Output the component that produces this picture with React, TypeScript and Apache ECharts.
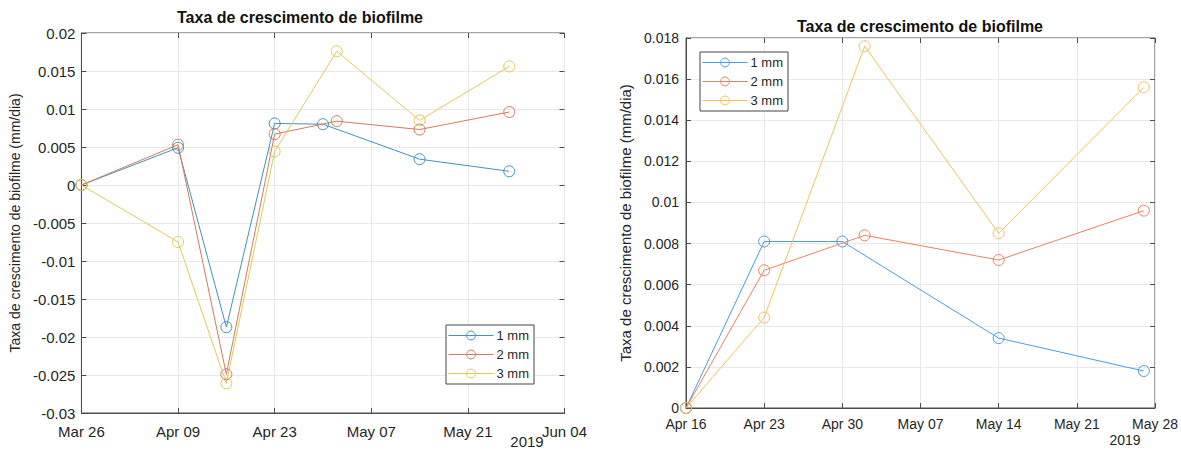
import React, { useEffect, useRef } from "react";
import * as echarts from "echarts";

// ---------- data ----------
const seriesNames = ["1 mm", "2 mm", "3 mm"];

// left chart (Mar 26 – Jun 04)
const leftDates1 = ["2019-03-26", "2019-04-09", "2019-04-16", "2019-04-23", "2019-04-30", "2019-05-14", "2019-05-27"];
const leftDates23 = ["2019-03-26", "2019-04-09", "2019-04-16", "2019-04-23", "2019-05-02", "2019-05-14", "2019-05-27"];
const left1mm = [0, 0.0049, -0.0187, 0.0081, 0.008, 0.0034, 0.0018];
const left2mm = [0, 0.0053, -0.0249, 0.0067, 0.0084, 0.0073, 0.0096];
const left3mm = [0, -0.0075, -0.0261, 0.0044, 0.0176, 0.0085, 0.0156];

// right chart (Apr 16 – May 28)
const rightDates1 = ["2019-04-16", "2019-04-23", "2019-04-30", "2019-05-14", "2019-05-27"];
const rightDates23 = ["2019-04-16", "2019-04-23", "2019-05-02", "2019-05-14", "2019-05-27"];
const right1mm = [0, 0.0081, 0.0081, 0.0034, 0.0018];
const right2mm = [0, 0.0067, 0.0084, 0.0072, 0.0096];
const right3mm = [0, 0.0044, 0.0176, 0.0085, 0.0156];

const leftStart = "2019-03-26";
const leftEnd = "2019-06-04";
const rightStart = "2019-04-16";
const rightEnd = "2019-05-28";

const titleText = "Taxa de crescimento de biofilme";
const yName = "Taxa de crescimento de biofilme (mm/dia)";
const yearLabel = "2019";

// ---------- helpers ----------
const DAY = 86400000;
const MONTHS = ["Jan", "Feb", "Mar", "Apr", "May", "Jun", "Jul", "Aug", "Sep", "Oct", "Nov", "Dec"];
const dayNum = (s: string) => {
  const [y, m, d] = s.split("-").map(Number);
  return Math.round(Date.UTC(y, m - 1, d) / DAY);
};
const fmtDay = (start: string) => (v: number) => {
  const dt = new Date((dayNum(start) + Math.round(v)) * DAY);
  return MONTHS[dt.getUTCMonth()] + " " + String(dt.getUTCDate()).padStart(2, "0");
};
const pts = (start: string, dates: string[], vals: number[]) =>
  dates.map((d, i) => [dayNum(d) - dayNum(start), vals[i]]);

const FONT = "'Liberation Sans', Arial, sans-serif";
const FRAME = "#4d4d4d";
const TXT = "#262626";
const GRIDC = "#e8e8e8";

function buildOption(cfg: any) {
  const {
    start, end, xInterval, yMin, yMax, yInterval, grid, colors, data,
    titleLeft, titleTop, fontSize, nameGap, nameFont, legendPos, yearPos, xMargin, yMargin,
  } = cfg;
  const xMax = dayNum(end) - dayNum(start);
  const baseX = {
    type: "value",
    min: 0,
    max: xMax,
    interval: xInterval,
  };
  const baseY = { type: "value", min: yMin, max: yMax, interval: yInterval };
  return {
    animation: false,
    backgroundColor: "#ffffff",
    title: {
      text: titleText,
      left: titleLeft,
      top: titleTop,
      textAlign: "center",
      padding: 0,
      textStyle: { fontFamily: FONT, fontSize: 16, fontWeight: "bold", color: "#111" },
    },
    grid: {
      left: grid.left,
      top: grid.top,
      width: grid.width,
      height: grid.height,
      show: true,
      borderColor: FRAME,
      borderWidth: 1,
      backgroundColor: "#fff",
    },
    legend: {
      orient: "vertical",
      left: legendPos.left,
      top: legendPos.top,
      data: seriesNames,
      itemWidth: 45,
      itemHeight: 11,
      itemGap: 6,
      padding: [4, 5, 4, 2],
      borderColor: "#444",
      borderWidth: 1,
      backgroundColor: "#fff",
      lineStyle: { width: 1 },
      itemStyle: { borderWidth: 1 },
      textStyle: { fontFamily: FONT, fontSize: 13, color: TXT, padding: [0, 0, 0, -2] },
    },
    xAxis: [
      {
        ...baseX,
        position: "bottom",
        axisLine: { show: true, onZero: false, lineStyle: { color: FRAME } },
        axisTick: { show: true, inside: true, length: 5, lineStyle: { color: FRAME } },
        axisLabel: { formatter: fmtDay(start), fontFamily: FONT, fontSize, color: TXT, margin: xMargin, showMaxLabel: true, showMinLabel: true },
        splitLine: { show: true, lineStyle: { color: GRIDC } },
      },
      {
        ...baseX,
        position: "top",
        axisLine: { show: false, onZero: false },
        axisTick: { show: true, inside: true, length: 5, lineStyle: { color: FRAME } },
        axisLabel: { show: false },
        splitLine: { show: false },
      },
    ],
    yAxis: [
      {
        ...baseY,
        position: "left",
        name: yName,
        nameLocation: "middle",
        nameGap,
        nameTextStyle: { fontFamily: FONT, fontSize: nameFont, color: TXT },
        axisLine: { show: true, onZero: false, lineStyle: { color: FRAME } },
        axisTick: { show: true, inside: true, length: 5, lineStyle: { color: FRAME } },
        axisLabel: { fontFamily: FONT, fontSize, color: TXT, margin: yMargin },
        splitLine: { show: true, lineStyle: { color: GRIDC } },
      },
      {
        ...baseY,
        position: "right",
        axisLine: { show: false, onZero: false },
        axisTick: { show: true, inside: true, length: 5, lineStyle: { color: FRAME } },
        axisLabel: { show: false },
        splitLine: { show: false },
      },
    ],
    graphic: [
      {
        type: "text",
        x: yearPos.x,
        y: yearPos.y,
        style: { text: yearLabel, fontFamily: FONT, fontSize, fill: TXT, align: "center", verticalAlign: "middle" },
      },
    ],
    series: data.map((d: number[][], i: number) => ({
      type: "line",
      name: seriesNames[i],
      xAxisIndex: 0,
      yAxisIndex: 0,
      data: d,
      symbol: "circle",
      symbolSize: 11,
      showSymbol: true,
      lineStyle: { color: colors[i], width: 1 },
      itemStyle: { color: "rgba(255,255,255,0)", borderColor: colors[i], borderWidth: 1 },
      emphasis: { disabled: true },
    })),
  };
}

export default function App() {
  const leftRef = useRef<HTMLDivElement>(null);
  const rightRef = useRef<HTMLDivElement>(null);

  useEffect(() => {
    document.body.style.margin = "0";
    const l = echarts.init(leftRef.current!, undefined, { renderer: "svg" });
    const r = echarts.init(rightRef.current!, undefined, { renderer: "svg" });

    l.setOption(
      buildOption({
        start: leftStart,
        end: leftEnd,
        xInterval: 14,
        yMin: -0.03,
        yMax: 0.02,
        yInterval: 0.005,
        grid: { left: 79, top: 33, width: 486, height: 380 },
        colors: ["#3f92c2", "#d47a5a", "#e6c659"],
        data: [
          pts(leftStart, leftDates1, left1mm),
          pts(leftStart, leftDates23, left2mm),
          pts(leftStart, leftDates23, left3mm),
        ],
        titleLeft: 300,
        titleTop: 9,
        fontSize: 15,
        nameGap: 55,
        nameFont: 14,
        legendPos: { left: 446, top: 325 },
        yearPos: { x: 527, y: 441 },
        xMargin: 11,
        yMargin: 6,
      })
    );

    r.setOption(
      buildOption({
        start: rightStart,
        end: rightEnd,
        xInterval: 7,
        yMin: 0,
        yMax: 0.018,
        yInterval: 0.002,
        grid: { left: 96, top: 38, width: 469, height: 370 },
        colors: ["#4a9de0", "#ef7f5e", "#f4c15c"],
        data: [
          pts(rightStart, rightDates1, right1mm),
          pts(rightStart, rightDates23, right2mm),
          pts(rightStart, rightDates23, right3mm),
        ],
        titleLeft: 330,
        titleTop: 18,
        fontSize: 14,
        nameGap: 48,
        nameFont: 15,
        legendPos: { left: 110, top: 52 },
        yearPos: { x: 535, y: 440 },
        xMargin: 9,
        yMargin: 7,
      })
    );

    return () => {
      l.dispose();
      r.dispose();
    };
  }, []);

  return (
    <div style={{ position: "relative", width: 1181, height: 450, background: "#fff" }}>
      <div ref={leftRef} style={{ position: "absolute", left: 0, top: 0, width: 590, height: 450 }} />
      <div ref={rightRef} style={{ position: "absolute", left: 590, top: 0, width: 591, height: 450 }} />
    </div>
  );
}
